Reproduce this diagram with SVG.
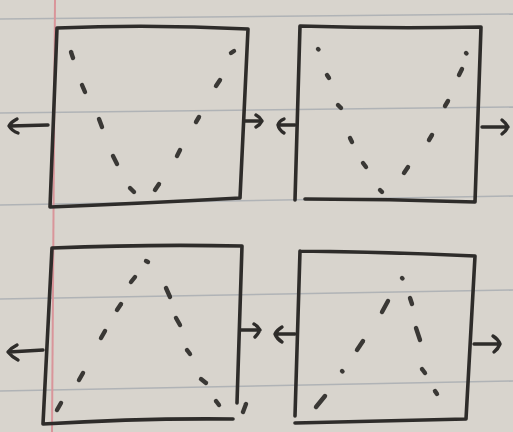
<svg xmlns="http://www.w3.org/2000/svg" width="513" height="432" viewBox="0 0 513 432">
<style>
.box{fill:none;stroke:#2e2c2a;stroke-width:3.6;stroke-linecap:round;stroke-linejoin:round}
.ar{fill:none;stroke:#2e2c2a;stroke-width:3.4;stroke-linecap:round;stroke-linejoin:round}
.d{stroke:#3a3835;stroke-width:4.4;stroke-linecap:round}
.rule{stroke:#b0b3b6;stroke-width:1.6;fill:none}
</style>
<rect width="513" height="432" fill="#d8d4cd"/>
<g id="paper">
<path class="rule" d="M0 19 L513 14"/>
<path class="rule" d="M0 113 L513 107"/>
<path class="rule" d="M0 205 L513 196"/>
<path class="rule" d="M0 299 L513 290"/>
<path class="rule" d="M0 391 L513 381"/>
<path d="M55 0 L52 432" stroke="#d9959a" stroke-width="2" fill="none"/>
</g>
<g id="box1">
<path class="box" d="M57 28 Q150 24 248 29 L240 198 Q150 203 50 207 L57 28"/>
<g class="d">
<path d="M71 52 L73 58"/><path d="M82 85 L85 92"/><path d="M99 119 L102 127"/><path d="M113 156 L117 164"/><path d="M130 188 L134 192"/>
<path d="M231 53 L234 51"/><path d="M216 86 L220 80"/><path d="M196 122 L199 117"/><path d="M177 156 L180 150"/><path d="M155 190 L159 184"/>
</g>
</g>
<g id="box2">
<path class="box" d="M300 26 Q390 29 481 27 L475 202 Q390 199 305 199 M300 26 L295 200"/>
<g class="d">
<path d="M318 49 L318.5 49.5"/><path d="M327 75 L329 78"/><path d="M338 105 L341 108"/><path d="M350 138 L352 142"/><path d="M363 163 L366 167"/><path d="M380 190 L382 192"/>
<path d="M466 53 L466.5 53.5"/><path d="M459 75 L462 69"/><path d="M445 106 L448 101"/><path d="M429 140 L432 135"/><path d="M404 173 L408 167"/>
</g>
</g>
<g id="box3">
<path class="box" d="M52 248 Q150 244 242 246 L237 403 M43 424 Q140 418 233 419 M52 248 L43 424"/>
<g class="d">
<path d="M146 261 L148 262"/><path d="M131 282 L135 277"/><path d="M117 310 L121 304"/><path d="M101 338 L105 331"/><path d="M79 380 L83 373"/><path d="M57 410 L61 403"/>
<path d="M166 288 L170 297"/><path d="M176 318 L180 325"/><path d="M187 350 L190 354"/><path d="M201 379 L206 383"/><path d="M216 401 L219 405"/><path d="M243 412 L246 404"/>
</g>
</g>
<g id="box4">
<path class="box" d="M300 251 Q390 252 475 256 L466 419 Q380 421 295 423 M300 251 L295 416"/>
<g class="d">
<path d="M402 278 L402.5 278.5"/><path d="M382 312 L388 301"/><path d="M357 350 L363 341"/><path d="M342 371 L342.5 371.5"/><path d="M316 407 L325 396"/>
<path d="M410 298 L412 304"/><path d="M416 328 L420 340"/><path d="M422 369 L425 373"/><path d="M435 391 L437 394"/>
</g>
</g>
<g id="connectors">
<path class="ar" d="M48 125 L10 126 M17 119 Q11 122 9 126 Q12 131 18 133"/>
<path class="ar" d="M244 121 L262 121 M256 115 Q260 117 262 121 Q260 125 256 127"/>
<path class="ar" d="M295 125 L279 125 M284 119 Q279 121 278 125 Q279 130 284 133"/>
<path class="ar" d="M482 127 L508 127 M502 120 Q506 123 508 127 Q506 131 502 134"/>
<path class="ar" d="M43 350 L9 352 M17 345 Q11 348 8 352 Q12 357 18 360"/>
<path class="ar" d="M241 330 L260 330 M254 324 Q258 326 260 330 Q258 334 255 337"/>
<path class="ar" d="M295 334 L276 334 M282 327 Q277 330 275 334 Q277 339 282 342"/>
<path class="ar" d="M474 344 L500 344 M493 336 Q498 339 500 344 Q498 349 494 352"/>
</g>
</svg>
